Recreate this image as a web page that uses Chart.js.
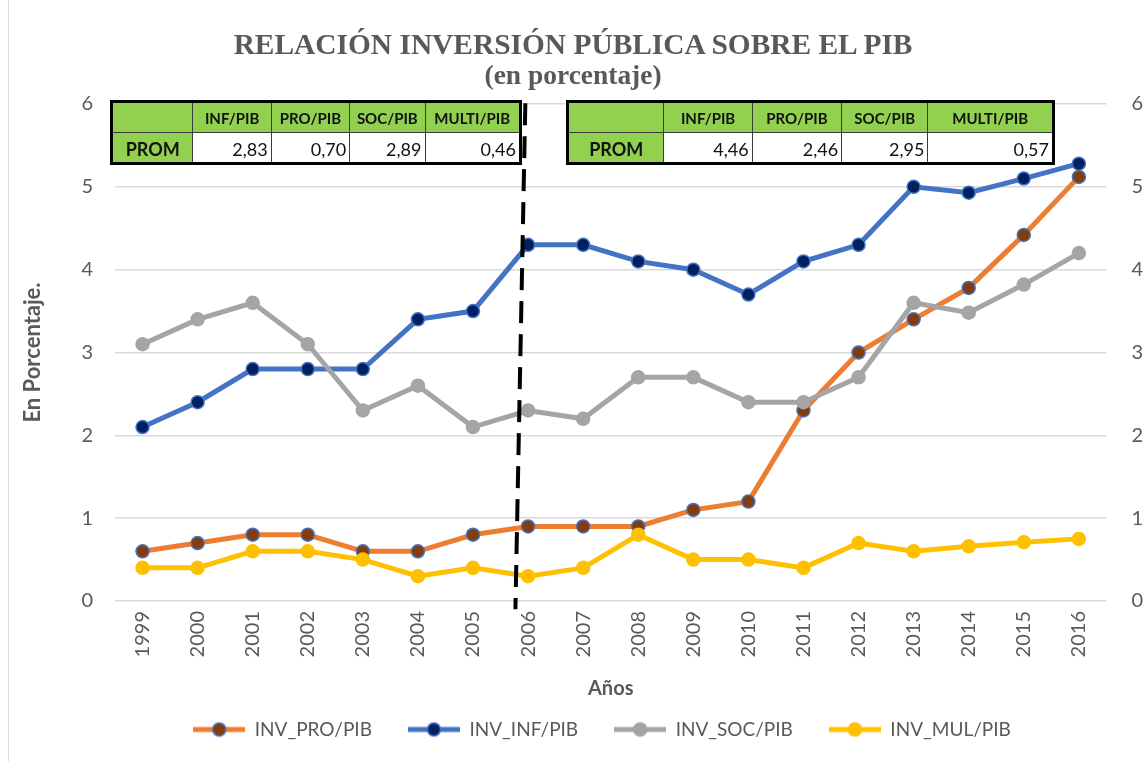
<!DOCTYPE html>
<html>
<head>
<meta charset="utf-8">
<script src="https://cdn.jsdelivr.net/npm/chart.js@4.4.1/dist/chart.umd.min.js"></script>
<style>
  html, body { margin: 0; padding: 0; background: #fff; }
  #wrap { position: relative; width: 1146px; height: 761px; overflow: hidden; }
  #frame { position: absolute; left: 8px; top: 0; width: 1px; height: 761px; background: #d9d9d9; }
  #title { position: absolute; left: 0; top: 28px; width: 1146px; text-align: center;
    font-family: "Liberation Serif", "DejaVu Serif", serif; font-weight: bold; color: #595959; }
  #title div { transform: scaleX(0.98); transform-origin: 576px 0; }
  #title .t1 { font-size: 30px; line-height: 32px; }
  #title .t2 { font-size: 28px; line-height: 30px; }
  table.prom { position: absolute; border-collapse: collapse; border: 3px solid #000;
    font-family: Lato, "Liberation Sans", sans-serif; color: #111; }
  table.prom td { border: 1px solid #3b3b3b; padding: 0 3px; height: 31px; box-sizing: border-box; }
  table.prom tr.h td { background: #92d050; text-align: center; font-weight: bold; font-size: 15px; }
  table.prom tr.d td { background: #fff; text-align: right; font-size: 18px; vertical-align: bottom; padding-bottom: 2px; }
  table.prom tr.d td.lab { background: #92d050; text-align: center; font-weight: bold; font-size: 18px; }
</style>
</head>
<body>
<div id="wrap">
  <canvas id="myChart" width="1146" height="761"></canvas>
  <div id="frame"></div>
  <div id="title"><div class="t1">RELACIÓN INVERSIÓN PÚBLICA SOBRE EL PIB</div><div class="t2">(en porcentaje)</div></div>
  <table class="prom" id="tab1" style="left:110px; top:100px; width:412px;"></table>
  <table class="prom" id="tab2" style="left:566px; top:100px; width:489px;"></table>
</div>
<script>
// Data
const years = ['1999', '2000', '2001', '2002', '2003', '2004', '2005', '2006', '2007', '2008',
  '2009', '2010', '2011', '2012', '2013', '2014', '2015', '2016'];
const invPro = [0.6, 0.7, 0.8, 0.8, 0.6, 0.6, 0.8, 0.9, 0.9, 0.9, 1.1, 1.2, 2.3, 3.0, 3.4, 3.78, 4.42, 5.12];
const invInf = [2.1, 2.4, 2.8, 2.8, 2.8, 3.4, 3.5, 4.3, 4.3, 4.1, 4.0, 3.7, 4.1, 4.3, 5.0, 4.93, 5.1, 5.28];
const invSoc = [3.1, 3.4, 3.6, 3.1, 2.3, 2.6, 2.1, 2.3, 2.2, 2.7, 2.7, 2.4, 2.4, 2.7, 3.6, 3.48, 3.82, 4.2];
const invMul = [0.4, 0.4, 0.6, 0.6, 0.5, 0.3, 0.4, 0.3, 0.4, 0.8, 0.5, 0.5, 0.4, 0.7, 0.6, 0.66, 0.71, 0.75];

const promHeaders = ['INF/PIB', 'PRO/PIB', 'SOC/PIB', 'MULTI/PIB'];
const prom1 = ['2,83', '0,70', '2,89', '0,46'];
const prom2 = ['4,46', '2,46', '2,95', '0,57'];
const prom1Widths = [81, 78, 78, 75, 95];
const prom2Widths = [96, 88, 89, 86, 125];

// dashed divider between periods (category index / value units)
const dividerTop = { x: 6.95, y: 6.01 };
const dividerBottom = { x: 6.77, y: -0.1 };

const textColor = '#595959';
const baseFont = 'Lato, "Liberation Sans", sans-serif';

function fillTable(id, values, widths) {
  const t = document.getElementById(id);
  let h = '<tr class="h"><td style="width:' + widths[0] + 'px"></td>';
  promHeaders.forEach((p, i) => { h += '<td style="width:' + widths[i + 1] + 'px">' + p + '</td>'; });
  h += '</tr><tr class="d"><td class="lab">PROM</td>';
  values.forEach(v => { h += '<td>' + v + '</td>'; });
  h += '</tr>';
  t.innerHTML = h;
}
fillTable('tab1', prom1, prom1Widths);
fillTable('tab2', prom2, prom2Widths);

// legend icons: line with a dot
function legendIcon(lineColor, dotFill, dotBorder) {
  const c = document.createElement('canvas');
  c.width = 52; c.height = 18;
  const g = c.getContext('2d');
  g.strokeStyle = lineColor; g.lineWidth = 5;
  g.beginPath(); g.moveTo(0, 9); g.lineTo(52, 9); g.stroke();
  g.beginPath(); g.arc(26, 9, 6.5, 0, Math.PI * 2);
  g.fillStyle = dotFill; g.fill();
  g.lineWidth = 1.5; g.strokeStyle = dotBorder; g.stroke();
  return c;
}

const series = [
  { label: 'INV_PRO/PIB', data: invPro, line: '#ed7d31', fill: '#843c0c', border: '#4472c4' },
  { label: 'INV_INF/PIB', data: invInf, line: '#4472c4', fill: '#002060', border: '#4472c4' },
  { label: 'INV_SOC/PIB', data: invSoc, line: '#a5a5a5', fill: '#a5a5a5', border: '#a5a5a5' },
  { label: 'INV_MUL/PIB', data: invMul, line: '#ffc000', fill: '#ffc000', border: '#ffc000' }
];
const icons = series.map(s => legendIcon(s.line, s.fill, s.border));

const dividerPlugin = {
  id: 'divider',
  afterLayout(chart) {
    // legend sits a little right of centre in the original
    chart.legend.left += 18;
    chart.legend.right += 18;
  },
  afterDatasetsDraw(chart) {
    const x = chart.scales.x, y = chart.scales.y, g = chart.ctx;
    g.save();
    g.strokeStyle = '#000';
    g.lineWidth = 4;
    g.setLineDash([22, 11]);
    g.beginPath();
    g.moveTo(x.getPixelForValue(dividerTop.x), y.getPixelForValue(dividerTop.y));
    g.lineTo(x.getPixelForValue(dividerBottom.x), y.getPixelForValue(dividerBottom.y));
    g.stroke();
    g.restore();
  }
};

const ctx = document.getElementById('myChart');
const myChart = new Chart(ctx, {
  type: 'line',
  data: {
    labels: years,
    datasets: series.map((s, i) => ({
      label: s.label,
      data: s.data,
      borderColor: s.line,
      backgroundColor: s.fill,
      borderWidth: 5,
      pointRadius: 6.5,
      pointHoverRadius: 6.5,
      pointBackgroundColor: s.fill,
      pointBorderColor: s.border,
      pointBorderWidth: 1.5,
      tension: 0,
      order: series.length - i
    }))
  },
  options: {
    responsive: false,
    animation: false,
    layout: { padding: { top: 104, left: 0, right: -22, bottom: 12 } },
    plugins: {
      title: { display: false },
      tooltip: { enabled: false },
      legend: {
        position: 'bottom',
        labels: {
          usePointStyle: true,
          pointStyleWidth: 52,
          boxHeight: 18,
          padding: 36,
          color: textColor,
          font: { family: baseFont, size: 19 },
          generateLabels: () => series.map((s, i) => ({
            text: s.label,
            pointStyle: icons[i],
            fillStyle: s.fill,
            strokeStyle: s.line,
            lineWidth: 0,
            hidden: false,
            datasetIndex: i,
            fontColor: textColor
          }))
        }
      }
    },
    scales: {
      x: {
        offset: true,
        grid: { display: false, drawTicks: false, offset: true },
        border: { display: false },
        ticks: { color: textColor, font: { family: baseFont, size: 20 }, minRotation: 90, maxRotation: 90, padding: 10, autoSkip: false },
        title: { display: true, text: 'Años', color: textColor, font: { family: baseFont, size: 20, weight: 'bold' }, padding: { top: 0, bottom: -17 } },
        afterFit: s => { s.height = 83; }
      },
      y: {
        position: 'left',
        min: 0, max: 6,
        ticks: { stepSize: 1, color: textColor, font: { family: baseFont, size: 20 }, padding: 22 },
        grid: { color: '#d9d9d9', lineWidth: 1.5, drawTicks: false },
        border: { display: false },
        title: { display: true, text: 'En Porcentaje.', color: textColor, font: { family: baseFont, size: 22, weight: 'bold' }, padding: { top: 20, bottom: 0 } },
        afterFit: s => { s.width = 115; }
      },
      y2: {
        position: 'right',
        min: 0, max: 6,
        ticks: { stepSize: 1, color: textColor, font: { family: baseFont, size: 20 }, padding: 25 },
        grid: { display: false, drawTicks: false },
        border: { display: false }
      }
    }
  },
  plugins: [dividerPlugin]
});
</script>
</body>
</html>
